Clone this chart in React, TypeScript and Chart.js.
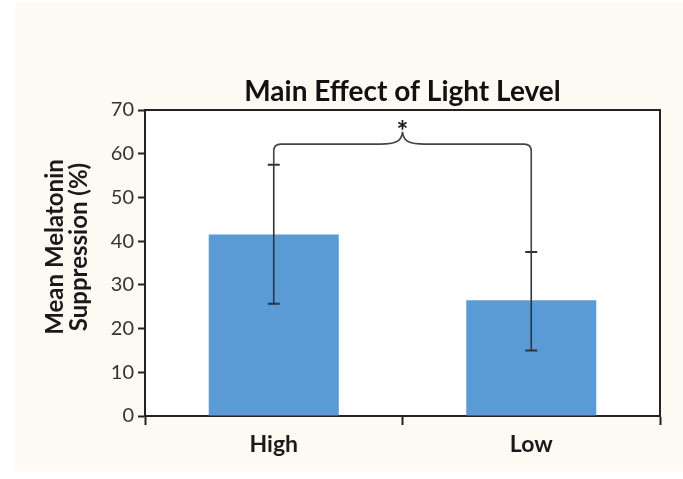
import React, { useEffect, useRef } from "react";
import { Chart, registerables } from "chart.js";

Chart.register(...registerables);

const categories = ["High", "Low"];
const meanValues = [41.5, 26.5];
const errorLow = [25.7, 15.0];
const errorHigh = [57.5, 37.5];
const yTicks = [0, 10, 20, 30, 40, 50, 60, 70];
const chartTitle = "Main Effect of Light Level";
const yTitle = ["Mean Melatonin", "Suppression (%)"];
const bracketLevel = 62.2;
const bracePeak = 65.0;
const starLevel = 63.0;
const starText = "*";

const FONT = "Lato, 'Open Sans', sans-serif";

const annotPlugin = {
  id: "annot",
  beforeDraw(chart: any) {
    const { ctx, chartArea: a } = chart;
    ctx.save();
    ctx.fillStyle = "#ffffff";
    ctx.fillRect(a.left, a.top, a.right - a.left, a.bottom - a.top);
    ctx.restore();
  },
  afterDatasetsDraw(chart: any) {
    const { ctx, scales } = chart;
    const x = scales.x;
    const y = scales.y;
    ctx.save();
    ctx.strokeStyle = "#333333";
    ctx.lineWidth = 1.6;
    for (let i = 0; i < categories.length; i++) {
      const cx = x.getPixelForValue(i);
      const yl = y.getPixelForValue(errorLow[i]);
      const yh = y.getPixelForValue(errorHigh[i]);
      ctx.beginPath();
      ctx.moveTo(cx, yl);
      ctx.lineTo(cx, yh);
      ctx.stroke();
      ctx.lineWidth = 2;
      ctx.beginPath();
      ctx.moveTo(cx - 6, yl);
      ctx.lineTo(cx + 6, yl);
      ctx.moveTo(cx - 6, yh);
      ctx.lineTo(cx + 6, yh);
      ctx.stroke();
      ctx.lineWidth = 1.6;
    }
    // bracket
    const x0 = x.getPixelForValue(0);
    const x1 = x.getPixelForValue(1);
    const mid = (x0 + x1) / 2;
    const yb = y.getPixelForValue(bracketLevel);
    const yp = y.getPixelForValue(bracePeak);
    const r = 7;
    ctx.strokeStyle = "#444444";
    ctx.lineWidth = 1.6;
    ctx.beginPath();
    ctx.moveTo(x0, y.getPixelForValue(errorHigh[0]));
    ctx.lineTo(x0, yb + r);
    ctx.quadraticCurveTo(x0, yb, x0 + r, yb);
    ctx.lineTo(mid - 22, yb);
    ctx.bezierCurveTo(mid - 8, yb, mid - 1, yb - 2, mid, yp);
    ctx.bezierCurveTo(mid + 1, yb - 2, mid + 8, yb, mid + 22, yb);
    ctx.lineTo(x1 - r, yb);
    ctx.quadraticCurveTo(x1, yb, x1, yb + r);
    ctx.lineTo(x1, y.getPixelForValue(errorHigh[1]));
    ctx.stroke();
    // star
    ctx.fillStyle = "#1a1a1a";
    ctx.font = `bold 28px ${FONT}`;
    ctx.textAlign = "center";
    ctx.textBaseline = "alphabetic";
    ctx.fillText(starText, mid, y.getPixelForValue(starLevel));
    ctx.restore();
  },
  afterDraw(chart: any) {
    const { ctx, chartArea: a } = chart;
    ctx.save();
    ctx.strokeStyle = "#222222";
    ctx.lineWidth = 2;
    ctx.beginPath();
    ctx.moveTo(a.left, a.top);
    ctx.lineTo(a.right, a.top);
    ctx.lineTo(a.right, a.bottom);
    ctx.stroke();
    ctx.fillStyle = "#111111";
    ctx.font = `bold 28px ${FONT}`;
    ctx.textAlign = "center";
    ctx.textBaseline = "middle";
    ctx.fillText(chartTitle, (a.left + a.right) / 2, 92);
    // y axis title
    ctx.translate(0, 247);
    ctx.rotate(-Math.PI / 2);
    ctx.font = `bold 24px ${FONT}`;
    ctx.fillStyle = "#1a1a1a";
    ctx.fillText(yTitle[0], 0, 55);
    ctx.fillText(yTitle[1], 0, 79);
    ctx.restore();
  },
};

export default function App() {
  const ref = useRef<HTMLCanvasElement | null>(null);
  useEffect(() => {
    document.body.style.margin = "0";
    const canvas = ref.current;
    if (!canvas) return;
    const chart = new Chart(canvas, {
      type: "bar",
      data: {
        labels: categories,
        datasets: [
          {
            data: meanValues,
            backgroundColor: "#5b9bd5",
            borderWidth: 0,
            categoryPercentage: 1,
            barPercentage: 0.505,
          },
        ],
      },
      options: {
        animation: false,
        responsive: false,
        devicePixelRatio: 1,
        layout: { padding: { top: 110, right: 23, left: 0, bottom: 0 } },
        plugins: {
          legend: { display: false },
          tooltip: { enabled: false },
          title: { display: false },
        },
        scales: {
          x: {
            type: "category",
            grid: {
              offset: true,
              drawOnChartArea: false,
              drawTicks: true,
              tickLength: 9,
              tickWidth: 2,
              tickColor: "#222222",
            },
            border: { display: true, color: "#222222", width: 2 },
            ticks: {
              font: { family: FONT, size: 23, weight: "bold" },
              color: "#1a1a1a",
              padding: 6,
            },
            afterFit: (s: any) => {
              s.height = 63;
            },
          },
          y: {
            min: 0,
            max: 70,
            afterBuildTicks: (s: any) => {
              s.ticks = yTicks.map((v) => ({ value: v }));
            },
            grid: {
              drawOnChartArea: false,
              drawTicks: true,
              tickLength: 7,
              tickWidth: 2,
              tickColor: "#222222",
            },
            border: { display: true, color: "#222222", width: 2 },
            ticks: {
              font: { family: FONT, size: 20 },
              color: "#333333",
              padding: 4,
            },
            afterFit: (s: any) => {
              s.width = 145;
            },
          },
        },
      },
      plugins: [annotPlugin],
    });
    return () => chart.destroy();
  }, []);

  return (
    <div style={{ position: "relative", width: 683, height: 479, background: "#ffffff" }}>
      <div
        style={{
          position: "absolute",
          left: 15,
          top: 2,
          width: 668,
          height: 469,
          background: "#fdf9f3",
        }}
      />
      <canvas
        ref={ref}
        width={683}
        height={479}
        style={{ position: "absolute", left: 0, top: 0, width: 683, height: 479 }}
      />
    </div>
  );
}
